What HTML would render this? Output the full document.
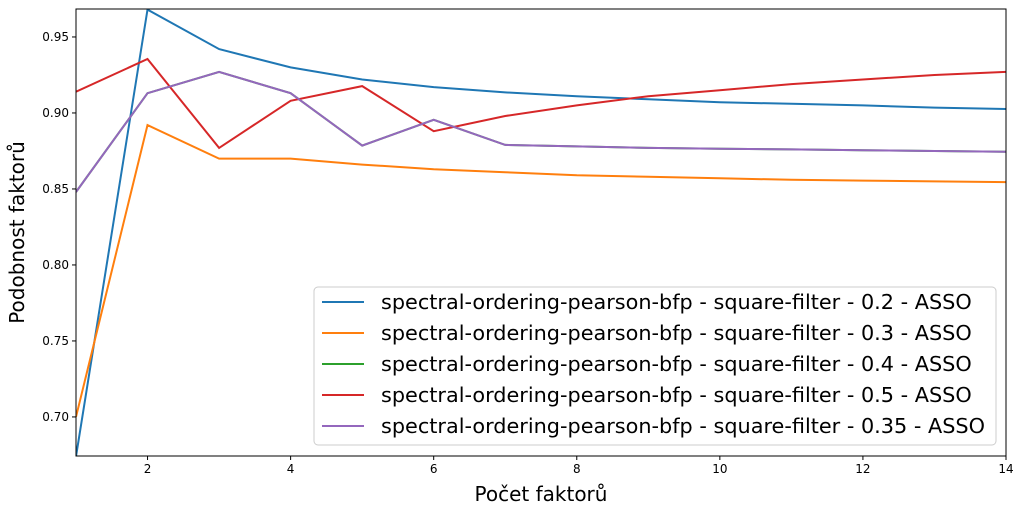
<!DOCTYPE html>
<html><head><meta charset="utf-8"><style>
body{margin:0;background:#fff;}
svg text{font-family:"DejaVu Sans","Liberation Sans",sans-serif;}
</style></head><body>
<svg width="1024" height="515" xmlns="http://www.w3.org/2000/svg">
<g id="plot"></g>
</svg>
<script>
const xValues=[1,2,3,4,5,6,7,8,9,10,11,12,13,14];
const seriesNames=["spectral-ordering-pearson-bfp - square-filter - 0.2 - ASSO","spectral-ordering-pearson-bfp - square-filter - 0.3 - ASSO","spectral-ordering-pearson-bfp - square-filter - 0.4 - ASSO","spectral-ordering-pearson-bfp - square-filter - 0.5 - ASSO","spectral-ordering-pearson-bfp - square-filter - 0.35 - ASSO"];
const colors=["#1f77b4","#ff7f0e","#2ca02c","#d62728","#9467bd"];
const s02=[0.674,0.968,0.942,0.930,0.922,0.917,0.9135,0.911,0.909,0.907,0.906,0.905,0.9035,0.9026];
const s03=[0.700,0.892,0.870,0.870,0.866,0.863,0.861,0.859,0.858,0.857,0.856,0.8555,0.855,0.8545];
const s04=[0.848,0.913,0.927,0.913,0.8785,0.8955,0.879,0.878,0.877,0.8765,0.876,0.8755,0.875,0.8745];
const s05=[0.914,0.9355,0.877,0.908,0.9177,0.888,0.898,0.905,0.911,0.915,0.919,0.922,0.925,0.927];
const s035=[0.848,0.913,0.927,0.913,0.8785,0.8955,0.879,0.878,0.877,0.8765,0.876,0.8755,0.875,0.8745];
const series=[s02,s03,s04,s05,s035];
const xTicks=[2,4,6,8,10,12,14];
const yTicks=[0.70,0.75,0.80,0.85,0.90,0.95];
const L=76,R=1006,T=9,B=456,xMin=1,xMax=14,yMin=0.6743,yMax=0.9684;
const sx=v=>L+(v-xMin)/(xMax-xMin)*(R-L);
const sy=v=>B-(v-yMin)/(yMax-yMin)*(B-T);
const NS="http://www.w3.org/2000/svg";
const g=document.getElementById('plot');
function mk(t,a,p){const e=document.createElementNS(NS,t);for(const k in a)e.setAttribute(k,a[k]);(p||g).appendChild(e);return e;}
const clip=mk('clipPath',{id:'c'});mk('rect',{x:L,y:T,width:R-L,height:B-T},clip);
series.forEach((s,i)=>{
 const d=s.map((v,j)=>(j?'L':'M')+sx(xValues[j]).toFixed(1)+','+sy(v).toFixed(1)).join('');
 const p=mk('path',{d:d,fill:'none',stroke:colors[i],'stroke-width':2,'clip-path':'url(#c)'});
 
 
});
const frame=mk('rect',{x:L,y:T,width:R-L,height:B-T,fill:'none',stroke:'#000','stroke-width':1});


xTicks.forEach(v=>{
 mk('line',{x1:sx(v),x2:sx(v),y1:B,y2:B+4,stroke:'#000'});
 const t=mk('text',{x:sx(v),y:B+17,'font-size':12,'text-anchor':'middle'});t.textContent=v;
 
 
});
yTicks.forEach(v=>{
 mk('line',{x1:L-4,x2:L,y1:sy(v),y2:sy(v),stroke:'#000'});
 const t=mk('text',{x:L-7,y:sy(v)+4,'font-size':12,'text-anchor':'end'});t.textContent=v.toFixed(2);
 
 
});
const xt=mk('text',{x:(L+R)/2,y:501,'font-size':20,'text-anchor':'middle'});xt.textContent='Počet faktorů';


const yt=mk('text',{x:24,y:(T+B)/2,'font-size':20,'text-anchor':'middle',transform:'rotate(-90 24 '+((T+B)/2)+')'});yt.textContent='Podobnost faktorů';


const lg=mk('g',{});


mk('rect',{x:314,y:287,width:682,height:158,rx:4,fill:'#fff','fill-opacity':0.8,stroke:'#ccc'},lg);
seriesNames.forEach((n,i)=>{
 const y=302+i*31;
 mk('line',{x1:322,x2:364,y1:y,y2:y,stroke:colors[i],'stroke-width':2},lg);
 const t=mk('text',{x:381,y:y+7,'font-size':20.8},lg);t.textContent=n;
 
 
});
</script>
</body></html>
